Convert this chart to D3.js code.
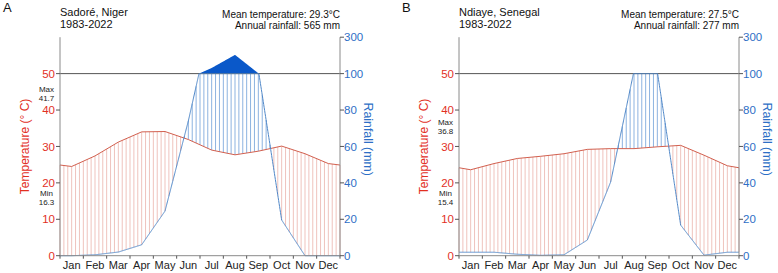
<!DOCTYPE html>
<html>
<head>
<meta charset="utf-8">
<script src="https://cdn.jsdelivr.net/npm/d3@7"></script>
<style>
  body { margin: 0; background: #fff; }
  svg { display: block; font-family: "Liberation Sans", Arial, sans-serif; }
</style>
</head>
<body>
<svg id="chart" width="778" height="273"></svg>
<script>
// monthly climate normals, 1983-2022
const months = ["Jan", "Feb", "Mar", "Apr", "May", "Jun", "Jul", "Aug", "Sep", "Oct", "Nov", "Dec"];

const sadoreTemp = [24.5, 27.4, 31.2, 34.0, 34.1, 31.9, 29.0, 27.7, 28.7, 30.1, 28.0, 25.3];
const sadoreRain = [0, 0.5, 2, 6, 24.5, 74, 131, 203, 102, 19.6, 0, 0];

const ndiayeTemp = [23.6, 25.3, 26.7, 27.3, 28.0, 29.2, 29.4, 29.4, 29.9, 30.3, 27.6, 24.7];
const ndiayeRain = [1.9, 1.9, 0.8, 0.2, 0.5, 8.6, 40.5, 101.5, 101, 16.8, 0.3, 1.9];

const panelLetters = ["A", "B"];
const stations = ["Sadoré, Niger", "Ndiaye, Senegal"];
const periods = ["1983-2022", "1983-2022"];
const meanTemps = [29.3, 27.5];
const annualRain = [565, 277];
const absMax = [41.7, 36.8];
const absMin = [16.3, 15.4];

const tempTicks = [0, 10, 20, 30, 40, 50];
const rainTicks = [0, 20, 40, 60, 80, 100, 300];

const panels = [
  { left: 60, temp: sadoreTemp, rain: sadoreRain, maxAt: 44.6 },
  { left: 459, temp: ndiayeTemp, rain: ndiayeRain, maxAt: 35.6 },
];

const RED = "#e2301f";
const BLUE = "#2e6fc6";
const AXIS = "#8a8a8a";

const svg = d3.select("#chart");
const W = 280;

// rainfall (mm) -> temperature-equivalent units, compressed above 100 mm
const rainToT = (p) => (p <= 100 ? p / 2 : 50 + (p - 100) / 20);

function drawPanel(p, i) {
  const g = svg.append("g");
  const x = d3.scaleLinear().domain([0, 12]).range([p.left, p.left + W]);
  const y = d3.scaleLinear().domain([0, 60]).range([255.7, 37.2]);

  // month centres plus edge values (mean of Dec and Jan)
  const knots = [0, ...months.map((_, k) => k + 0.5), 12];
  const edgeT = (p.temp[0] + p.temp[11]) / 2;
  const edgeP = (p.rain[0] + p.rain[11]) / 2;
  const tAt = d3.scaleLinear().domain(knots).range([edgeT, ...p.temp, edgeT]);
  const pAt = d3.scaleLinear().domain(knots).range([edgeP, ...p.rain, edgeP]);

  const samples = Array.from(new Set([...knots, ...d3.range(0, 12, 0.01)])).sort((a, b) => a - b);

  // vertical hatching: red where dry, blue where wet
  const hatch = d3.range(0, 73).map((k) => k / 6);
  g.append("g").selectAll("line")
    .data(hatch)
    .join("line")
    .attr("x1", (m) => x(m)).attr("x2", (m) => x(m))
    .attr("y1", (m) => y(tAt(m)))
    .attr("y2", (m) => y(Math.min(pAt(m), 100) / 2))
    .attr("stroke", (m) => (tAt(m) > Math.min(pAt(m), 100) / 2 ? "#efc3bd" : "#8db3e0"))
    .attr("stroke-width", 1);

  // solid fill for rainfall above 100 mm
  const area = d3.area()
    .x((m) => x(m))
    .y0(y(50))
    .y1((m) => y(rainToT(Math.max(pAt(m), 100))));
  g.append("path")
    .attr("d", area(samples))
    .attr("fill", "#0a58c9");

  // 50 degC / 100 mm reference line
  g.append("line")
    .attr("x1", x(0)).attr("x2", x(12))
    .attr("y1", y(50)).attr("y2", y(50))
    .attr("stroke", "#555").attr("stroke-width", 1);

  // temperature line
  const line = d3.line().x((d) => x(d[0])).y((d) => y(d[1]));
  g.append("path")
    .attr("d", line(knots.map((m) => [m, tAt(m)])))
    .attr("fill", "none")
    .attr("stroke", "#d2604f")
    .attr("stroke-width", 1);

  // rainfall line, clipped at 100 mm
  g.append("path")
    .attr("d", line(samples.map((m) => [m, Math.min(pAt(m), 100) / 2])))
    .attr("fill", "none")
    .attr("stroke", "#4f87c8")
    .attr("stroke-width", 1);

  // left axis
  const axL = g.append("g").attr("transform", `translate(${x(0)},0)`);
  axL.append("line").attr("y1", y(0)).attr("y2", y(60)).attr("stroke", AXIS);
  axL.selectAll(".tk").data(tempTicks).join("line")
    .attr("x1", -4).attr("x2", 0)
    .attr("y1", (d) => y(d)).attr("y2", (d) => y(d))
    .attr("stroke", "#555");
  axL.selectAll("text").data(tempTicks).join("text")
    .attr("x", -5).attr("y", (d) => y(d)).attr("dy", "0.36em")
    .attr("text-anchor", "end")
    .attr("font-size", 11.5)
    .attr("fill", RED)
    .text((d) => d);

  // right axis
  const axR = g.append("g").attr("transform", `translate(${x(12)},0)`);
  axR.append("line").attr("y1", y(0)).attr("y2", y(60)).attr("stroke", AXIS);
  axR.selectAll(".tk").data(rainTicks).join("line")
    .attr("x1", 0).attr("x2", 4)
    .attr("y1", (d) => y(rainToT(d))).attr("y2", (d) => y(rainToT(d)))
    .attr("stroke", "#555");
  axR.selectAll("text").data(rainTicks).join("text")
    .attr("x", 4).attr("y", (d) => y(rainToT(d))).attr("dy", "0.36em")
    .attr("font-size", 11.5)
    .attr("fill", BLUE)
    .text((d) => d);

  // bottom axis
  const axB = g.append("g").attr("transform", `translate(0,${y(0)})`);
  axB.append("line").attr("x1", x(0)).attr("x2", x(12)).attr("stroke", AXIS);
  axB.selectAll(".tk").data(d3.range(13)).join("line")
    .attr("x1", (d) => x(d)).attr("x2", (d) => x(d))
    .attr("y1", 0).attr("y2", 3)
    .attr("stroke", "#555");
  axB.selectAll("text").data(months).join("text")
    .attr("x", (d, k) => x(k + 0.5)).attr("y", 13.5)
    .attr("text-anchor", "middle")
    .attr("font-size", 11)
    .attr("fill", "#222")
    .text((d) => d);

  // axis titles
  g.append("text")
    .attr("transform", `translate(${x(0) - 31},${y(30)}) rotate(-90)`)
    .attr("text-anchor", "middle")
    .attr("font-size", 12)
    .attr("fill", RED)
    .text("Temperature (° C)");
  g.append("text")
    .attr("transform", `translate(${x(12) + 23.5},${y(32)}) rotate(90)`)
    .attr("text-anchor", "middle")
    .attr("font-size", 12.3)
    .attr("fill", BLUE)
    .text("Rainfall (mm)");

  // header
  g.append("text").attr("x", p.left - 57).attr("y", 12)
    .attr("font-size", 13).attr("fill", "#111").text(panelLetters[i]);
  g.append("text").attr("x", x(0)).attr("y", 16)
    .attr("font-size", 11).attr("fill", "#111").text(stations[i]);
  g.append("text").attr("x", x(0)).attr("y", 28)
    .attr("font-size", 11).attr("fill", "#111").text(periods[i]);
  g.append("text").attr("x", x(12)).attr("y", 17.5).attr("text-anchor", "end")
    .attr("font-size", 10).attr("fill", "#111").text(`Mean temperature: ${meanTemps[i]}°C`);
  g.append("text").attr("x", x(12)).attr("y", 28.5).attr("text-anchor", "end")
    .attr("font-size", 10).attr("fill", "#111").text(`Annual rainfall: ${annualRain[i]} mm`);

  // absolute extremes
  const ext = (label, val, yc) => {
    g.append("text").attr("x", x(0) - 13.5).attr("y", yc - 1.5).attr("text-anchor", "middle")
      .attr("font-size", 8).attr("fill", "#222").text(label);
    g.append("text").attr("x", x(0) - 13.5).attr("y", yc + 8).attr("text-anchor", "middle")
      .attr("font-size", 8).attr("fill", "#222").text(val);
  };
  ext("Max", absMax[i], y(p.maxAt));
  ext("Min", absMin[i], y(16.1));
}

panels.forEach(drawPanel);
</script>
</body>
</html>
